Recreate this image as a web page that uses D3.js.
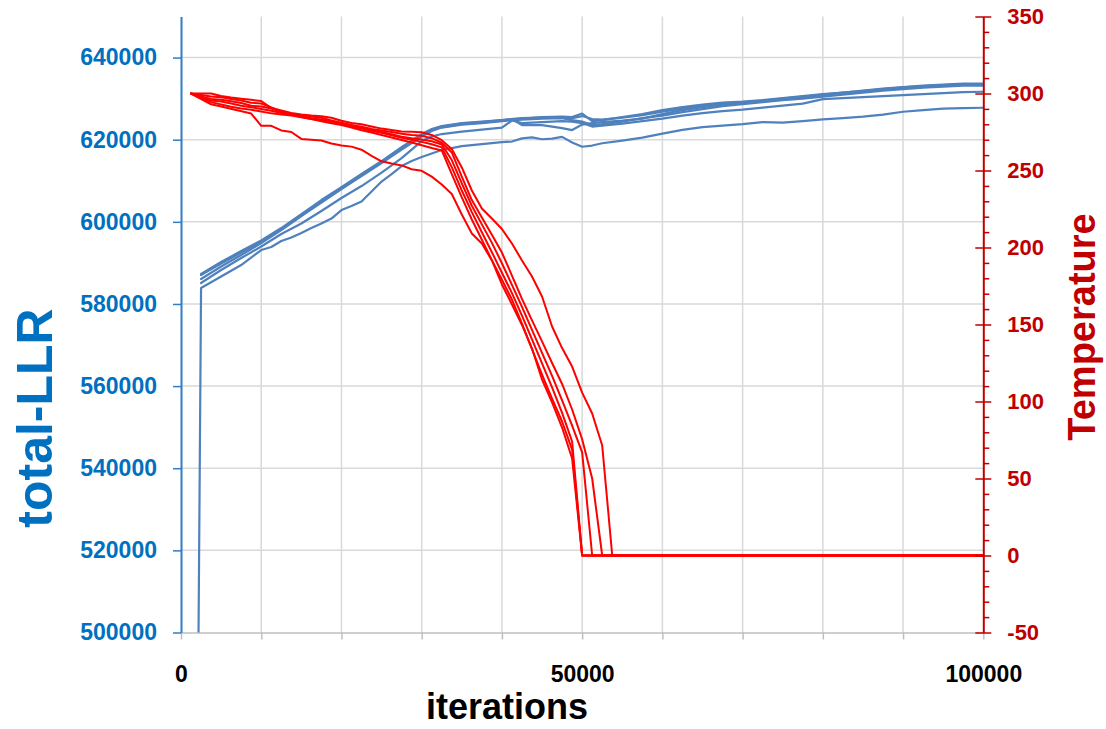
<!DOCTYPE html>
<html>
<head>
<meta charset="utf-8">
<script src="https://cdn.jsdelivr.net/npm/d3@7"></script>
<style>
  html, body { margin: 0; padding: 0; background: #ffffff; }
  text { font-family: "Liberation Sans", Arial, sans-serif; font-weight: bold; }
</style>
</head>
<body>
<svg id="chart" width="1106" height="729"></svg>
<script>
// ---- axis ticks ----
const llrTicks = [500000, 520000, 540000, 560000, 580000, 600000, 620000, 640000];
const tempTicks = [-50, 0, 50, 100, 150, 200, 250, 300, 350];
const tempMinorTicks = d3.range(-50, 351, 10).filter(v => v % 50 !== 0);
const iterTicks = [0, 10000, 20000, 30000, 40000, 50000, 60000, 70000, 80000, 90000, 100000];
const iterLabels = [0, 50000, 100000];

// ---- total-LLR per run: [iteration, total-LLR] ----
const llrRun1 = [[2500,587288],[5000,590210],[7500,592888],[10000,595444],[12500,598488],[15000,601896],[17500,605305],[20000,608470],[22500,611636],[25000,614801],[27500,618209],[30000,621375],[31250,622592],[32500,623323],[35000,624053],[37500,624419],[40000,624784],[42500,625149],[45000,625514],[47500,625636],[48750,625514],[50000,626367],[51250,624541],[52500,624784],[55000,625514],[57500,626245],[60000,627219],[62500,627949],[65000,628558],[67500,629045],[70000,629288],[72500,629653],[75000,630140],[77500,630627],[80000,631114],[82500,631480],[85000,631845],[87500,632332],[90000,632746],[92500,633062],[95000,633306],[97500,633549],[100000,633549]];
const llrRun2 = [[2500,587045],[5000,589966],[7500,592645],[10000,595201],[12500,598245],[15000,601653],[17500,604940],[20000,608227],[22500,611392],[25000,614558],[27500,617966],[30000,621131],[31250,622349],[32500,623079],[35000,623810],[37500,624175],[40000,624662],[41250,625027],[42500,623566],[45000,623566],[47500,622836],[48750,622349],[50000,623688],[51250,624053],[52500,624297],[55000,624662],[57500,625149],[60000,626245],[62500,627219],[65000,627949],[67500,628558],[70000,628923],[72500,629410],[75000,629897],[77500,630262],[80000,630749],[82500,631236],[85000,631723],[87500,632210],[90000,632575],[92500,632941],[95000,633184],[97500,633427],[100000,633427]];
const llrRun3 = [[2500,586071],[5000,589114],[7500,591914],[10000,594837],[12500,598001],[15000,601410],[17500,604697],[20000,607984],[22500,611149],[25000,614314],[27500,617601],[30000,620766],[31250,622105],[32500,622957],[35000,623688],[37500,624053],[40000,624540],[42500,624906],[45000,625149],[47500,625271],[48750,624784],[50000,624419],[51250,623566],[52500,623810],[55000,624419],[57500,625271],[60000,625880],[62500,626732],[65000,627462],[67500,628193],[70000,628680],[72500,629167],[75000,629653],[77500,630019],[80000,630505],[82500,630992],[85000,631480],[87500,631966],[90000,632332],[92500,632697],[95000,632941],[97500,633184],[100000,633184]];
const llrRun4 = [[2500,587167],[5000,589844],[7500,592523],[10000,595079],[12500,598123],[15000,601531],[17500,605062],[20000,608349],[22500,611514],[25000,614680],[27500,618088],[30000,621131],[31250,622349],[32500,623201],[35000,623931],[37500,624297],[40000,624784],[42500,625271],[45000,625392],[47500,625514],[48750,625271],[50000,625758],[51250,625027],[52500,624906],[55000,625392],[57500,626001],[60000,626854],[62500,627584],[65000,628315],[67500,628801],[70000,629045],[72500,629532],[75000,630019],[77500,630505],[80000,630992],[82500,631480],[85000,631966],[87500,632454],[90000,632819],[92500,633184],[95000,633427],[97500,633671],[100000,633671]];
const llrRun5 = [[2500,585097],[5000,588263],[7500,591184],[10000,593984],[12500,597027],[15000,599583],[17500,602626],[20000,605792],[22500,608714],[25000,612001],[27500,615531],[30000,619670],[31250,620766],[32500,621375],[35000,621983],[37500,622470],[40000,622957],[41250,624662],[42500,624053],[45000,624297],[47500,624541],[48750,624419],[50000,624053],[51250,623201],[52500,623445],[55000,623931],[57500,624541],[60000,625149],[62500,625880],[65000,626489],[67500,626976],[70000,627341],[72500,627828],[75000,628315],[77500,628801],[80000,629897],[82500,630140],[85000,630384],[87500,630627],[90000,630871],[92500,631114],[95000,631358],[97500,631601],[100000,631674]];
const llrRun6 = [[1250,250000],[2500,583879],[5000,586679],[7500,589479],[10000,593131],[11250,593861],[12500,595322],[13750,596175],[15000,597270],[16250,598488],[17500,599583],[18750,600801],[20000,602870],[21250,603844],[22500,604940],[23750,607375],[25000,609810],[26250,611636],[27500,613583],[28750,614801],[30000,615775],[32500,617479],[35000,618453],[37500,618940],[40000,619427],[41250,619549],[42500,620328],[43750,620572],[45000,620109],[46250,620280],[47500,620694],[48750,619306],[50000,618283],[51250,618575],[52500,619135],[55000,619793],[57500,620523],[60000,621497],[62500,622398],[65000,623080],[67500,623445],[70000,623810],[72500,624297],[75000,624151],[77500,624541],[80000,624955],[82500,625271],[85000,625637],[87500,626124],[90000,626805],[92500,627219],[95000,627584],[97500,627706],[100000,627779]];

// ---- temperature schedule per run: [iteration, temperature] ----
const tempRun1 = [[1250,300],[3750,293],[5000,291.5],[8750,287],[10000,279],[11250,279],[12500,276],[13750,275],[15000,270.5],[17500,269.5],[18750,267.5],[20000,266.2],[21250,265.5],[22500,263.5],[23750,259.5],[25000,256],[26250,254.5],[27500,253.3],[28750,250.8],[30000,249.8],[31250,246],[32500,240.9],[33750,234.7],[35000,221.4],[36250,209.1],[37500,202.6],[38750,191.6],[40000,176],[41250,163],[42500,149.7],[43750,134.4],[45000,114.3],[46250,99.4],[47500,83.1],[48750,63],[50000,0],[100000,0]];
const tempRun2 = [[1250,300],[2500,296.8],[3750,294.4],[5000,292.9],[6250,291.4],[7500,290.3],[8750,289.4],[10000,288.3],[11250,287.1],[12500,286.4],[13750,285.7],[15000,284.5],[16250,283.4],[17500,282],[18750,280.6],[20000,279.5],[21250,277.9],[22500,276.1],[23750,274.7],[25000,273.1],[26250,271.4],[27500,269.8],[28750,268.2],[30000,266.4],[31250,264.6],[32500,263],[33750,247.7],[35000,232.5],[36250,218.2],[37500,205],[38750,191.8],[40000,179.1],[41250,166.2],[42500,150.5],[43750,134],[45000,117.5],[46250,101.8],[47500,87],[48750,68.8],[50000,0],[100000,0]];
const tempRun3 = [[1250,300],[2500,297.5],[3750,295.5],[5000,294.8],[6250,293.5],[7500,292],[8750,291],[10000,290],[11250,288.8],[12500,287.3],[13750,286.5],[15000,284.8],[16250,283.5],[17500,282.6],[18750,281.6],[20000,280],[21250,278.6],[22500,277.3],[23750,275.8],[25000,274.5],[26250,272.8],[27500,271.2],[28750,270],[30000,268.6],[31250,267],[32500,265],[33750,252.2],[35000,237],[36250,223],[37500,209.9],[38750,196.9],[40000,183.6],[41250,170.4],[42500,155.8],[43750,140.3],[45000,124.8],[46250,109.1],[47500,92.6],[48750,74],[50000,0],[100000,0]];
const tempRun4 = [[1250,300],[2500,298],[3750,296.5],[5000,296],[6250,295],[7500,293.8],[8750,292],[10000,291.5],[11250,290.2],[12500,288],[13750,286.8],[15000,285],[16250,284],[17500,283.2],[18750,281.5],[20000,280.5],[21250,279.2],[22500,277.5],[23750,276],[25000,275],[26250,273.5],[27500,272],[28750,271],[30000,270.2],[31250,269],[32500,266.9],[33750,256.8],[35000,241.6],[36250,227.1],[37500,215],[38750,203],[40000,189.8],[41250,175.7],[42500,161.4],[43750,146.5],[45000,131.6],[46250,116.6],[47500,100.8],[48750,84.4],[50000,67],[51250,0],[100000,0]];
const tempRun5 = [[1250,300],[2500,299],[3750,298],[5000,297.6],[6250,296.5],[7500,295.5],[8750,294],[10000,293.5],[11250,291],[12500,288.4],[13750,286.5],[15000,285.6],[16250,285],[17500,284.3],[18750,282.5],[20000,281],[21250,279.5],[22500,278.4],[23750,277],[25000,276],[26250,275],[27500,273.8],[28750,273],[30000,272.5],[31250,271],[32500,268],[33750,261.7],[35000,246],[36250,230.8],[37500,219.5],[38750,208.3],[40000,196.7],[41250,181.8],[42500,166.6],[43750,152.7],[45000,139],[46250,125],[47500,111.4],[48750,94.8],[50000,75.5],[51250,50],[52500,0],[100000,0]];
const tempRun6 = [[1250,300],[2500,300],[3750,300],[5000,298.4],[6250,297.4],[7500,296.6],[8750,295.9],[10000,295.1],[11250,290.6],[12500,289],[13750,287.3],[15000,286.4],[16250,285.7],[17500,285.2],[18750,284.2],[20000,282.3],[21250,280.8],[22500,280],[23750,278.6],[25000,277.2],[26250,276.3],[27500,275.3],[28750,275.1],[30000,274.8],[31250,273.1],[32500,269.7],[33750,264],[35000,252],[36250,237],[37500,225.3],[38750,218.8],[40000,212],[41250,202.6],[42500,191.6],[43750,181.2],[45000,168.2],[46250,148.7],[47500,134.7],[48750,122.7],[50000,105.8],[51250,92.2],[52500,71.4],[53750,0],[100000,0]];

const llrRuns = [llrRun1, llrRun2, llrRun3, llrRun4, llrRun5, llrRun6];
const tempRuns = [tempRun1, tempRun2, tempRun3, tempRun4, tempRun5, tempRun6];

// ---- layout ----
const svg = d3.select("#chart");
const plot = { left: 181, right: 983.3, top: 16.5, bottom: 632.5 };

const x = d3.scaleLinear().domain([0, 100000]).range([plot.left, plot.right]);
const yL = d3.scaleLinear().domain([500000, 650000]).range([plot.bottom, plot.top]);
const yR = d3.scaleLinear().domain([-50, 350]).range([plot.bottom, plot.top]);

const blue = "#4F81BD", red = "#FF0000";
const llrColor = "#0070C0", tempColor = "#C00000";

svg.append("rect").attr("width", 1106).attr("height", 729).attr("fill", "#ffffff");

svg.append("defs").append("clipPath").attr("id", "plotClip")
  .append("rect")
  .attr("x", plot.left).attr("y", plot.top)
  .attr("width", plot.right - plot.left).attr("height", plot.bottom - plot.top);

// gridlines
const grid = svg.append("g").attr("stroke", "#D9D9D9").attr("stroke-width", 1.5);
grid.selectAll(".hg").data(llrTicks.filter(v => v > 500000)).join("line")
  .attr("x1", plot.left).attr("x2", plot.right)
  .attr("y1", d => yL(d)).attr("y2", d => yL(d));
grid.selectAll(".vg").data(iterTicks.filter(v => v > 0 && v < 100000)).join("line")
  .attr("y1", plot.top).attr("y2", plot.bottom)
  .attr("x1", d => x(d)).attr("x2", d => x(d));

// x axis
const xAxis = d3.axisBottom(x)
  .tickValues(iterTicks).tickSize(7).tickSizeOuter(0).tickPadding(26)
  .tickFormat(d => iterLabels.includes(d) ? String(d) : "");
const gx = svg.append("g").attr("transform", `translate(0,${plot.bottom})`).call(xAxis);
gx.select(".domain").attr("stroke", "#BFBFBF").attr("stroke-width", 1.5);
gx.selectAll(".tick line").attr("stroke", "#BFBFBF").attr("stroke-width", 1.5);
gx.selectAll(".tick text").attr("fill", "#000").style("font-size", "23px");

// data lines
const lineL = d3.line().x(d => x(d[0])).y(d => yL(d[1]));
const lineR = d3.line().x(d => x(d[0])).y(d => yR(d[1]));
const series = svg.append("g").attr("clip-path", "url(#plotClip)")
  .attr("fill", "none").attr("stroke-linejoin", "round").attr("stroke-linecap", "round");
series.selectAll(".llr").data(llrRuns).join("path")
  .attr("d", lineL).attr("stroke", blue).attr("stroke-width", 2.2);
series.selectAll(".temp").data(tempRuns).join("path")
  .attr("d", lineR).attr("stroke", red).attr("stroke-width", 2);

// left axis (total-LLR)
const leftAxis = d3.axisLeft(yL).tickValues(llrTicks).tickSize(8).tickSizeOuter(0).tickPadding(16)
  .tickFormat(d => String(d));
const gl = svg.append("g").attr("transform", `translate(${plot.left},0)`).call(leftAxis);
gl.select(".domain").attr("stroke", "#2E7DC6").attr("stroke-width", 2);
gl.selectAll(".tick line").attr("stroke", "#2E7DC6").attr("stroke-width", 1.5);
gl.selectAll(".tick text").attr("fill", llrColor).style("font-size", "23px");

// right axis (Temperature): minor ticks, then major ticks crossing the line
const rightMinor = d3.axisRight(yR).tickValues(tempMinorTicks).tickSize(6).tickSizeOuter(0).tickFormat("");
const grm = svg.append("g").attr("transform", `translate(${plot.right},0)`).call(rightMinor);
grm.select(".domain").remove();
grm.selectAll(".tick line").attr("stroke", tempColor).attr("stroke-width", 1.5);

const rightAxis = d3.axisRight(yR).tickValues(tempTicks).tickSize(8).tickSizeOuter(0).tickPadding(16)
  .tickFormat(d => String(d));
const gr = svg.append("g").attr("transform", `translate(${plot.right},0)`).call(rightAxis);
gr.select(".domain").attr("stroke", tempColor).attr("stroke-width", 2);
gr.selectAll(".tick line").attr("x1", -8).attr("x2", 8).attr("stroke", tempColor).attr("stroke-width", 1.5);
gr.selectAll(".tick text").attr("fill", tempColor).style("font-size", "22px");

// axis titles
svg.append("text")
  .attr("transform", "translate(52,418) rotate(-90)")
  .attr("text-anchor", "middle").attr("fill", llrColor)
  .style("font-size", "50px").text("total-LLR");
svg.append("text")
  .attr("transform", "translate(1095,327) rotate(-90)")
  .attr("text-anchor", "middle").attr("fill", tempColor)
  .style("font-size", "38px").text("Temperature");
svg.append("text")
  .attr("x", 507).attr("y", 719)
  .attr("text-anchor", "middle").attr("fill", "#000")
  .style("font-size", "36px").text("iterations");
</script>
</body>
</html>
